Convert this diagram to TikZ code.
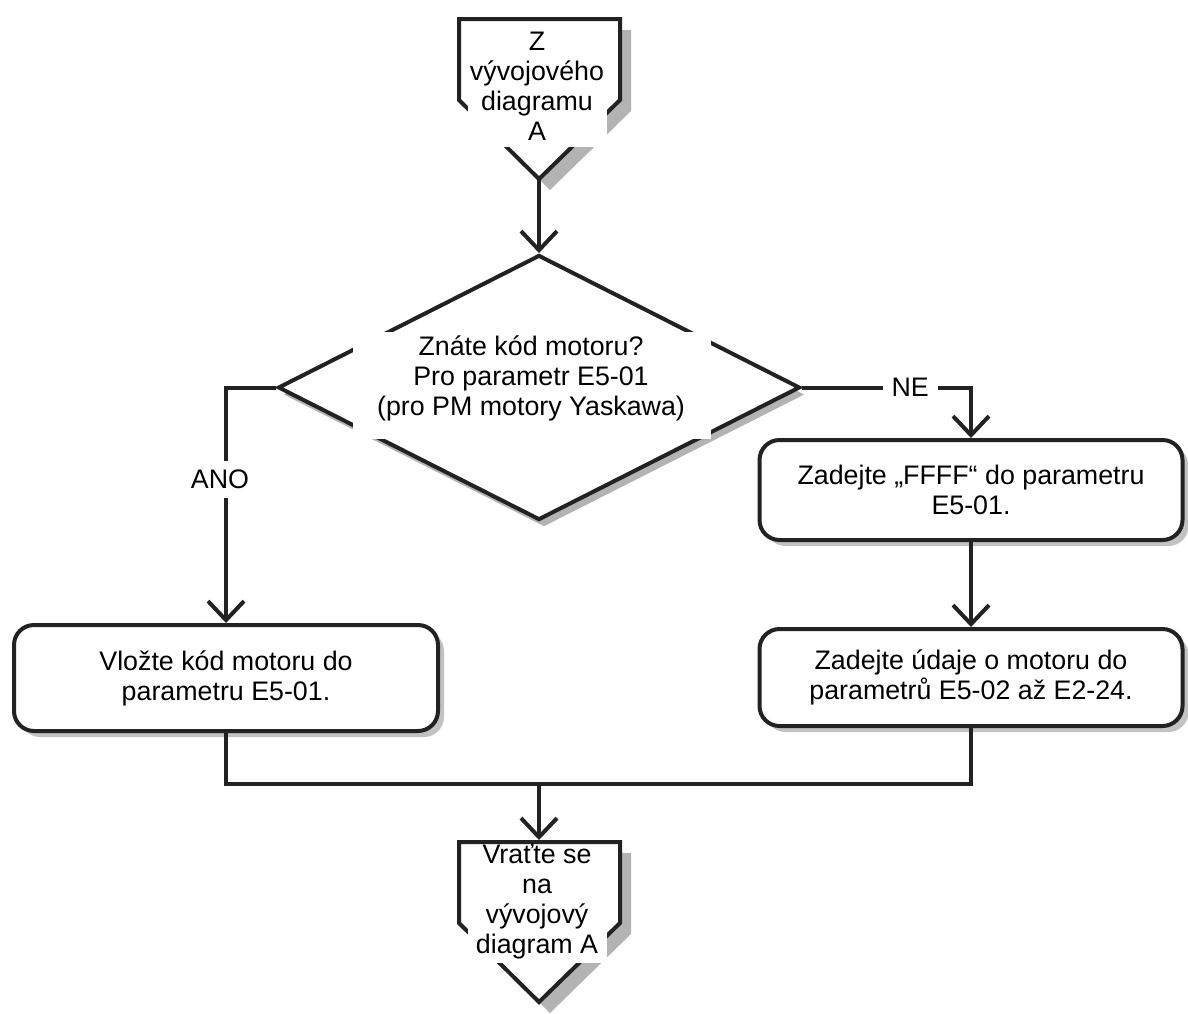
\documentclass[tikz,border=0pt]{standalone}
\usepackage{fontspec}
\setmainfont{Liberation Sans}
\usetikzlibrary{shapes.geometric,arrows.meta,shadows}
\definecolor{ln}{HTML}{222222}
\definecolor{shad}{HTML}{B3B3B3}
\begin{document}
\begin{tikzpicture}[x=1pt,y=-1pt,
  txt/.style={font=\fontsize{26.8}{30}\selectfont, align=center, text=black},
  outline/.style={draw=ln, line width=4pt, line join=miter},
  box/.style={outline, fill=white, rounded corners=20pt, minimum width=424pt,
    inner sep=0pt, txt, drop shadow={shadow xshift=6pt, shadow yshift=-6pt, fill=shad, opacity=0.8}},
  decision/.style={outline, diamond, fill=white, inner sep=0pt, minimum width=522pt, minimum height=265pt,
    drop shadow={shadow xshift=5pt, shadow yshift=-7pt, fill=shad, opacity=1}},
  conn/.style={draw=ln, line width=4pt, line join=miter},
  arr/.style={conn, -{Straight Barb[length=19pt,width=36pt,line join=miter]}},
  lbl/.style={txt, fill=white, inner sep=9pt}
]
\fill[white] (0,0) rectangle (1188,1013);
\useasboundingbox (0,0) rectangle (1188,1013);

% top off-page connector
\fill[shad, shift={(11,11)}] (459,19) -- (620,19) -- (620,100) -- (539,179) -- (459,100) -- cycle;
\draw[outline, fill=white] (459,19) -- (620,19) -- (620,100) -- (539,179) -- (459,100) -- cycle;
\coordinate (toptip) at (539,180);
\fill[white] (468,23) rectangle (607,147);
\node[txt] (toptext) at (537,86) {Z\\vývojového\\diagramu\\A};

% decision
\node[decision] (dia) at (539,387.5) {};
\fill[white] (353,332) rectangle (711,439);
\node[txt] (diatext) at (531,378) {Znáte kód motoru?\\Pro parametr E5-01\\(pro PM motory Yaskawa)};

% process boxes
\node[box, minimum height=106pt] (lbox) at (226,678) {Vložte kód motoru do\\parametru E5-01.};
\node[box, minimum width=423pt, minimum height=100pt] (rb1) at (971,490) {Zadejte „FFFF“ do parametru\\E5-01.};
\node[box, minimum width=423pt, minimum height=97pt] (rb2) at (971,677.5) {Zadejte údaje o motoru do\\parametrů E5-02 až E2-24.};

% bottom off-page connector
\fill[shad, shift={(11,11)}] (459,842) -- (620,842) -- (620,923) -- (539,1002) -- (459,923) -- cycle;
\draw[outline, fill=white] (459,842) -- (620,842) -- (620,923) -- (539,1002) -- (459,923) -- cycle;
\coordinate (bottop) at (539,840);
\fill[white] (468,845) rectangle (607,963);
\node[txt] (bottext) at (537,902) {Vraťte se\\na\\vývojový\\diagram A};

% connectors
\draw[arr] (toptip) -- (dia.north);
\draw[arr] (dia.west) -| node[lbl, pos=0.695, xshift=-6pt] {ANO} (lbox.north);
\draw[arr] (dia.east) -| node[lbl, pos=0.32] {NE} (rb1.north);
\draw[arr] (rb1.south) -- (rb2.north);
\coordinate (join) at (539,784);
\draw[conn] (lbox.south) |- (join) -| (rb2.south);
\draw[arr] (join) -- (bottop);
\end{tikzpicture}
\end{document}
